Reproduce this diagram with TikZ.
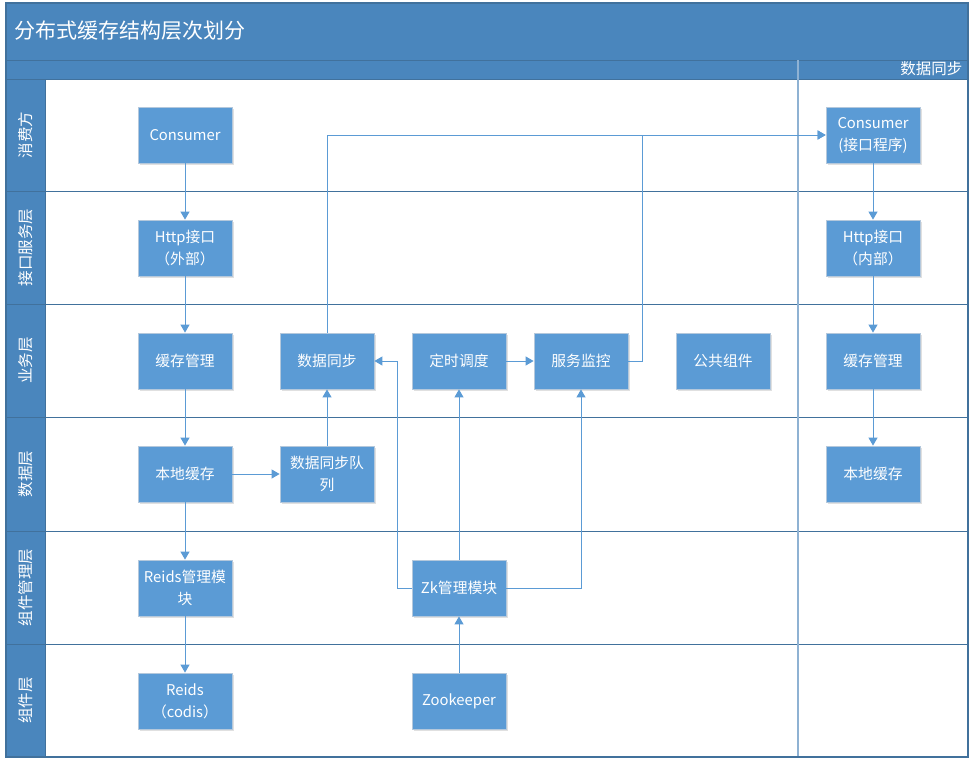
\documentclass[tikz,border=0pt]{standalone}
\usepackage{fontspec}
\setmainfont{Noto Sans CJK SC}
\usetikzlibrary{arrows.meta,shadows}
\definecolor{band}{HTML}{4A86BD}
\definecolor{boxfill}{HTML}{5B9BD5}
\definecolor{boxedge}{HTML}{B4C8DC}
\definecolor{flow}{HTML}{5B9BD5}
\definecolor{rule}{HTML}{41719C}
\definecolor{divider}{HTML}{8FB2D3}

\begin{document}
\begin{tikzpicture}[x=1pt,y=-1pt,
  box/.style={draw=boxedge, line width=0.8pt, fill=boxfill, text=white,
    minimum width=94pt, minimum height=56pt, inner sep=2pt, align=center,
    font=\fontsize{14.8}{22}\selectfont,
    drop shadow={shadow xshift=1.5pt, shadow yshift=-1.5pt, fill=black, opacity=0.12}},
  flowline/.style={draw=flow, line width=1pt, -{Triangle[length=8pt,width=9pt]}},
  lanelabel/.style={rotate=90, text=white, font=\fontsize{15.5}{18}\selectfont},
]
\useasboundingbox (0,0) rectangle (974,766);
\fill[white] (0,0) rectangle (974,766);

% header bands and lane label column
\fill[band] (6,3) rectangle (968,79);
\fill[band] (6,79) rectangle (45,757);
\draw[rule, line width=0.8pt] (6,60) -- (968,60);
\foreach \y in {79,191,304,417,531,644}
  \draw[rule, line width=1pt] (6,\y) -- (968,\y);
\draw[rule, line width=0.8pt] (45,79) -- (45,757);
\draw[divider, line width=1.4pt] (798,60) -- (798,757);
\draw[rule, line width=1.2pt] (6,3) rectangle (968,757);

% titles
\node[anchor=west, text=white, font=\fontsize{21}{24}\selectfont] (title) at (11,31) {分布式缓存结构层次划分};
\node[anchor=east, text=white, font=\fontsize{15.5}{18}\selectfont] (synchead) at (966,69) {数据同步};

% lane labels
\node[lanelabel] (laneA) at (25.5,135) {消费方};
\node[lanelabel] (laneB) at (25.5,247.5) {接口服务层};
\node[lanelabel] (laneC) at (25.5,360.5) {业务层};
\node[lanelabel] (laneD) at (25.5,474) {数据层};
\node[lanelabel] (laneE) at (25.5,587.5) {组件管理层};
\node[lanelabel] (laneF) at (25.5,700.5) {组件层};

% main column
\node[box] (consumer) at (185,135) {Consumer};
\node[box] (httpout)  at (185,248) {Http接口\\（外部）};
\node[box] (cache)    at (185,361) {缓存管理};
\node[box] (local)    at (185,474) {本地缓存};
\node[box] (reidsmgr) at (185,588) {Reids管理模\\块};
\node[box] (reids)    at (185,701) {Reids\\（codis）};

\node[box] (sync)     at (327,361) {数据同步};
\node[box] (queue)    at (327,474) {数据同步队\\列};
\node[box] (sched)    at (459,361) {定时调度};
\node[box] (monitor)  at (581,361) {服务监控};
\node[box] (common)   at (723,361) {公共组件};
\node[box] (zkmgr)    at (459,588) {Zk管理模块};
\node[box] (zk)       at (459,701) {Zookeeper};

% data sync column
\node[box] (consumer2) at (873,135) {Consumer\\(接口程序)};
\node[box] (httpin)    at (873,248) {Http接口\\（内部）};
\node[box] (cache2)    at (873,361) {缓存管理};
\node[box] (local2)    at (873,474) {本地缓存};

% connectors
\draw[flowline] (consumer) -- (httpout);
\draw[flowline] (httpout) -- (cache);
\draw[flowline] (cache) -- (local);
\draw[flowline] (local) -- (reidsmgr);
\draw[flowline] (reidsmgr) -- (reids);
\draw[flowline] (local) -- (queue);
\draw[flowline] (queue) -- (sync);
\draw[flowline] (sync.north) |- (consumer2.west);
\draw[flowline] (monitor.east) -- ++(14,0) |- (consumer2.west);
\draw[flowline] (sched) -- (monitor);
\draw[flowline] (zkmgr.north) -- (sched.south);
\draw[flowline] (zkmgr.west) -- ++(-14,0) |- (sync.east);
\draw[flowline] (zkmgr.east) -| (monitor.south);
\draw[flowline] (zk) -- (zkmgr);
\draw[flowline] (consumer2) -- (httpin);
\draw[flowline] (httpin) -- (cache2);
\draw[flowline] (cache2) -- (local2);
\end{tikzpicture}
\end{document}
